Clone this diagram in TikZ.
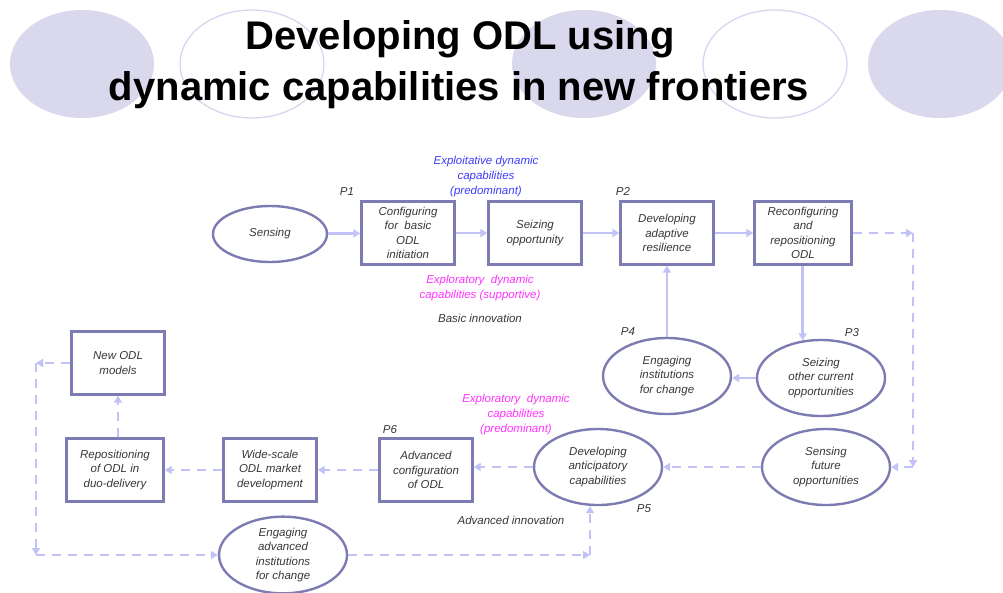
\documentclass[tikz,border=0pt]{standalone}
\usepackage{fontspec}
\setmainfont{Liberation Sans}
\usetikzlibrary{shapes.geometric,arrows.meta}

\definecolor{borde}{RGB}{124,124,178}
\definecolor{lila}{RGB}{194,194,246}
\definecolor{fondo}{RGB}{217,216,236}
\definecolor{aro}{RGB}{214,214,240}
\definecolor{azul}{RGB}{60,60,250}
\definecolor{rosa}{RGB}{255,50,255}
\definecolor{gris}{RGB}{55,55,55}

\tikzset{
  caja/.style={draw=borde, line width=2.4pt, minimum width=93pt, minimum height=63pt,
    inner sep=1pt, align=center, text=gris, font=\itshape\fontsize{11.5}{14.5}\selectfont},
  elipse/.style={ellipse, draw=borde, line width=2.4pt, minimum width=128pt, minimum height=76pt,
    inner sep=0pt, align=center, text=gris, font=\itshape\fontsize{11.5}{14.5}\selectfont},
  flecha/.style={draw=lila, line width=2.8pt, -{Triangle[length=7pt,width=8pt]}},
  discont/.style={flecha, dash pattern=on 9pt off 7pt},
  etiq/.style={align=center, text=gris, font=\itshape\fontsize{11.5}{15}\selectfont}
}

\begin{document}
\begin{tikzpicture}[x=1pt,y=-1pt]
    \useasboundingbox (0,0) rectangle (1003,592);

    % Dibuja los circulos del fondo
    \fill[fondo] (82,64) ellipse [x radius=72, y radius=54];
    \draw[aro, line width=1.3pt] (252,64) ellipse [x radius=72, y radius=54];
    \fill[fondo] (584,64) ellipse [x radius=72, y radius=54];
    \draw[aro, line width=1.3pt] (775,64) ellipse [x radius=72, y radius=54];
    \fill[fondo] (940,64) ellipse [x radius=72, y radius=54];

    % Titulo
    \node[anchor=base, font=\bfseries\fontsize{40}{44}\selectfont] (tit1) at (460,49) {Developing ODL using};
    \node[anchor=base, font=\bfseries\fontsize{40}{44}\selectfont] (tit2) at (459,100) {dynamic capabilities in new frontiers};

    % Define los nodos de arriba
    \node[elipse, minimum width=114pt, minimum height=56pt] (sensing) at (270,234) {Sensing};
    \node[caja] (config) at (408,233) {Configuring\\for\ \ basic\\ODL\\initiation};
    \node[caja] (seizopp) at (535,233) {Seizing\\opportunity};
    \node[caja] (devadapt) at (667,233) {Developing\\adaptive\\resilience};
    \node[caja, minimum width=97pt] (reconf) at (803,233) {Reconfiguring\\and\\repositioning\\ODL};

    % Nodos del medio
    \node[elipse] (seizother) at (821,378) {Seizing\\other current\\opportunities};
    \node[elipse] (enginst) at (667,376) {Engaging\\institutions\\for change};
    \node[elipse] (sensfut) at (826,467) {Sensing\\future\\opportunities};
    \node[elipse] (devantic) at (598,467) {Developing\\anticipatory\\capabilities};

    % Nodos de abajo
    \node[caja] (advconf) at (426,470) {Advanced\\configuration\\of ODL};
    \node[caja] (widescale) at (270,470) {Wide-scale\\ODL market\\development};
    \node[caja, minimum width=97pt] (repos) at (115,470) {Repositioning\\of ODL in\\duo-delivery};
    \node[caja] (newodl) at (118,363) {New ODL\\models};
    \node[elipse] (engadv) at (283,555) {Engaging\\advanced\\institutions\\for change};

    % Etiquetas
    \node[etiq] (p1) at (347,192) {P1};
    \node[etiq] (p2) at (623,191) {P2};
    \node[etiq] (p3) at (852,333) {P3};
    \node[etiq] (p4) at (628,332) {P4};
    \node[etiq] (p5) at (644,509) {P5};
    \node[etiq] (p6) at (390,430) {P6};
    \node[etiq, text=azul] (explota) at (486,177) {Exploitative dynamic\\capabilities\\(predominant)};
    \node[etiq, text=rosa] (exploraA) at (480,288) {Exploratory\ \ dynamic\\capabilities (supportive)};
    \node[etiq] (basica) at (480,318) {Basic innovation};
    \node[etiq, text=rosa] (exploraB) at (516,415) {Exploratory\ \ dynamic\\capabilities\\(predominant)};
    \node[etiq] (avanzada) at (511,520) {Advanced innovation};

    % Esquinas de las lineas discontinuas
    \coordinate (esq1) at (913,233);
    \coordinate (esq2) at (913,467);
    \coordinate (esq3) at (36,363);
    \coordinate (esq4) at (36,555);
    \coordinate (esq5) at (590,555);

    % Dibuja las flechas continuas
    \draw[flecha] (sensing) -- (config);
    \draw[flecha] (config) -- (seizopp);
    \draw[flecha] (seizopp) -- (devadapt);
    \draw[flecha] (devadapt) -- (reconf);
    \draw[flecha] (seizother.116 |- reconf.south) -- (seizother.116);
    \draw[flecha] (seizother.west) -- (seizother.west -| enginst.east);
    \draw[flecha] (enginst.north) -- (enginst.north |- devadapt.south);

    % Dibuja las flechas discontinuas
    \draw[discont] (reconf.east) -- (esq1);
    \draw[discont] (esq1) -- (esq2);
    \draw[discont] (esq2) -- (sensfut.east);
    \draw[discont] (sensfut) -- (devantic);
    \draw[discont] (devantic.west) -- (devantic.west -| advconf.east);
    \draw[discont] (advconf) -- (widescale);
    \draw[discont] (widescale) -- (repos);
    \draw[discont] (repos.north -| newodl.south) -- (newodl.south);
    \draw[discont] (newodl.west) -- (esq3);
    \draw[discont] (esq3) -- (esq4);
    \draw[discont] (esq4) -- (engadv.west);
    \draw[discont] (engadv.east) -- (esq5);
    \draw[discont] (esq5) -- (esq5 |- devantic.south);
\end{tikzpicture}
\end{document}
